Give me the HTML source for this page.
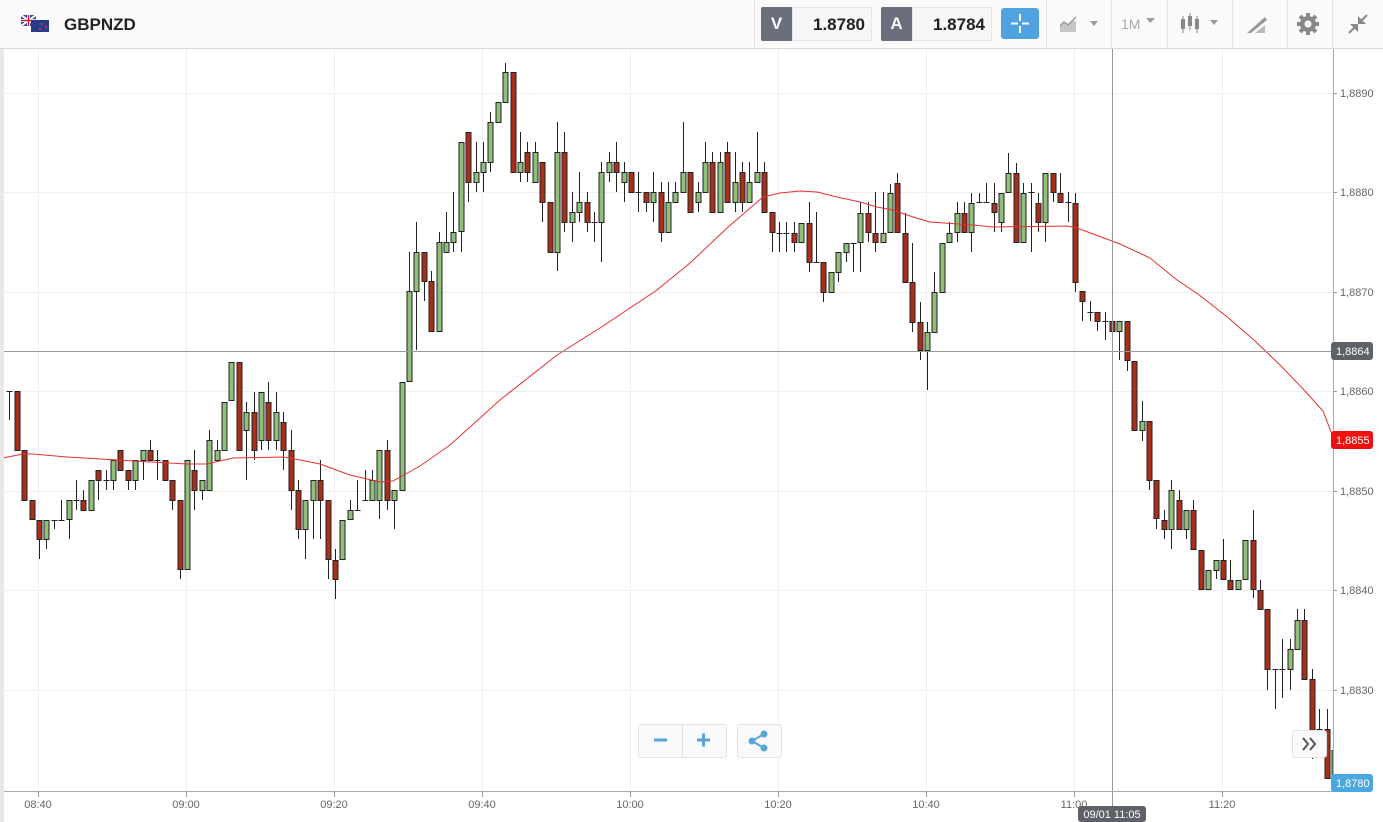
<!DOCTYPE html>
<html><head><meta charset="utf-8">
<style>
html,body{margin:0;padding:0;width:1383px;height:822px;overflow:hidden;background:#fff;font-family:"Liberation Sans",sans-serif;}
#hdr{position:absolute;left:0;top:0;width:1383px;height:48px;background:#fafafa;border-bottom:1px solid #d8d8d8;}
.sep{position:absolute;top:0;width:1px;height:48px;background:#e4e4e4;}
.bx{position:absolute;top:7px;height:34px;line-height:34px;font-size:17px;font-weight:bold;text-align:center;}
</style></head><body>
<div id="hdr">
  <svg style="position:absolute;left:21px;top:15px" width="30" height="18">
    <rect x="0" y="0" width="15" height="11" fill="#3a4a9a"/><path d="M0 0L15 11M15 0L0 11" stroke="#fff" stroke-width="2"/><path d="M7.5 0V11M0 5.5H15" stroke="#fff" stroke-width="3"/><path d="M7.5 0V11M0 5.5H15" stroke="#c8202a" stroke-width="1.5"/>
    <rect x="10" y="5" width="18" height="12" fill="#2a3a8a"/><circle cx="21" cy="9" r="1" fill="#e33"/><circle cx="25" cy="12" r="1" fill="#e33"/><circle cx="19" cy="14" r="1" fill="#e33"/>
  </svg>
  <div style="position:absolute;left:64px;top:15px;font-size:17px;font-weight:bold;color:#222">GBPNZD</div>
  <div class="sep" style="left:754px"></div>
  <div class="bx" style="left:761px;width:31px;background:#6b6e7c;color:#fff;border-radius:2px 0 0 2px">V</div>
  <div class="bx" style="left:792px;width:80px;background:#f7f7f7;border:1px solid #e6e6e6;box-sizing:border-box;color:#222;font-weight:600;text-align:right;padding-right:6px">1.8780</div>
  <div class="bx" style="left:881px;width:31px;background:#6b6e7c;color:#fff;border-radius:2px 0 0 2px">A</div>
  <div class="bx" style="left:912px;width:80px;background:#f7f7f7;border:1px solid #e6e6e6;box-sizing:border-box;color:#222;font-weight:600;text-align:right;padding-right:6px">1.8784</div>
  <div style="position:absolute;left:1001px;top:8px;width:38px;height:31px;background:#4ea3e0;border-radius:3px"></div>
  <svg style="position:absolute;left:1001px;top:8px" width="38" height="31"><path d="M19 6V13M19 18V25M10 15.5H17M21 15.5H28" stroke="#fff" stroke-width="2"/></svg>
  <div class="sep" style="left:1046px"></div>
  <svg style="position:absolute;left:1058px;top:14px" width="45" height="20"><path d="M2 18V12L6 9L9 12L14 6L18 8V18Z" fill="#c6c6c6"/><path d="M2 12L6 8L10 11L18 3" stroke="#999" fill="none" stroke-width="1.5"/><path d="M32 7L40 7L36 12Z" fill="#999"/></svg>
  <div class="sep" style="left:1111px"></div>
  <div style="position:absolute;left:1121px;top:16px;font-size:14px;color:#aaa">1M</div>
  <svg style="position:absolute;left:1146px;top:18px" width="10" height="6"><path d="M0 0H9L4.5 5Z" fill="#999"/></svg>
  <div class="sep" style="left:1167px"></div>
  <svg style="position:absolute;left:1180px;top:13px" width="45" height="22"><g fill="#888"><rect x="1" y="6" width="4" height="10"/><rect x="8" y="3" width="4" height="10"/><rect x="15" y="6" width="4" height="10"/></g><path d="M3 3V20M10 0V17M17 3V20" stroke="#888"/><path d="M30 7H38L34 12Z" fill="#999"/></svg>
  <div class="sep" style="left:1232px"></div>
  <svg style="position:absolute;left:1245px;top:13px" width="24" height="22"><path d="M2 20L20 4L22 7L6 20Z" fill="#999"/><path d="M10 20L20 12V20Z" fill="#bbb"/></svg>
  <div class="sep" style="left:1287px"></div>
  <svg style="position:absolute;left:1296px;top:12px" width="24" height="24"><circle cx="12" cy="12" r="8" fill="#888"/><g stroke="#888" stroke-width="4"><path d="M12 1V23M1 12H23M4 4L20 20M20 4L4 20"/></g><circle cx="12" cy="12" r="3.5" fill="#fafafa"/></svg>
  <div class="sep" style="left:1332px"></div>
  <svg style="position:absolute;left:1346px;top:12px" width="24" height="24"><path d="M3 21L10 14M21 3L14 10" stroke="#888" stroke-width="2"/><path d="M4 12H12V20Z M20 12H12V4Z" fill="#888"/></svg>
</div>
<div style="position:absolute;left:0;top:49px;width:4px;height:773px;background:#e8e8e8"></div>
<svg id="ch" style="position:absolute;left:0;top:0" width="1383" height="822"></svg>
<script>
var s='';
var gx=[38,186,334,482,630,778,926,1074,1222], gl=['08:40','09:00','09:20','09:40','10:00','10:20','10:40','11:00','11:20'];
var gy=[93,192,292,391,491,590,690], pl=['1,8890','1,8880','1,8870','1,8860','1,8850','1,8840','1,8830'];
for(var k=0;k<gx.length;k++){s+='<line x1="'+gx[k]+'.5" y1="49" x2="'+gx[k]+'.5" y2="792" stroke="#efefef"/>';}
for(var k=0;k<gy.length;k++){s+='<line x1="4" y1="'+gy[k]+'.5" x2="1333" y2="'+gy[k]+'.5" stroke="#efefef"/>';
 s+='<line x1="1333" y1="'+gy[k]+'.5" x2="1337" y2="'+gy[k]+'.5" stroke="#999"/><text x="1340" y="'+(gy[k]+4)+'" font-size="11" fill="#666">'+pl[k]+'</text>';}
var D=[[391,391,420,0],[391,450,0,0],[450,500,0,0],[500,519,0,0],[520,539,559,0],[539,520,549,0],[520,520,529,0],[520,520,500,0],[519,500,539,0],[500,500,480,510],
[500,510,490,0],[510,480,0,0],[470,480,500,0],[480,480,470,490],[480,460,490,0],[450,470,0,0],[470,480,490,0],[480,460,490,0],[460,450,480,0],[450,460,440,0],
[460,460,450,480],[460,480,0,0],[480,500,510,0],[500,569,579,0],[569,460,0,0],[470,490,450,510],[490,480,500,0],[490,440,430,0],[460,450,440,0],[450,402,0,0],
[400,362,0,0],[362,450,0,0],[430,412,402,480],[412,450,392,460],[440,392,450,0],[402,440,382,450],[440,412,392,450],[422,450,412,470],[450,490,430,510],[490,529,480,539],
[529,500,559,0],[500,480,539,0],[480,500,460,539],[500,559,579,0],[560,579,549,599],[559,520,0,0],[519,510,500,0],[510,510,480,0],[500,500,470,0],[500,480,470,0],
[500,450,519,0],[450,500,440,510],[500,490,529,0],[490,382,0,0],[381,291,252,0],[291,252,222,350],[252,281,301,0],[281,331,271,0],[331,242,232,0],[252,242,212,0],
[242,232,192,252],[231,142,252,0],[132,182,202,0],[182,172,142,192],[172,162,142,192],[162,122,112,172],[122,102,0,0],[102,72,63,0],[72,172,0,0],[172,162,132,182],
[152,172,142,182],[182,152,142,0],[162,202,222,0],[202,252,0,0],[252,152,122,271],[152,222,132,232],[222,212,192,242],[212,202,172,222],[202,222,192,232],[222,222,212,242],
[222,172,162,262],[172,162,152,182],[162,172,142,192],[182,172,162,202],[172,192,0,0],[192,192,172,212],[192,202,212,0],[202,192,172,222],[192,232,182,242],[232,202,182,0],
[202,192,182,0],[192,172,122,0],[172,212,0,0],[202,192,182,212],[192,162,142,0],[162,212,152,0],[212,162,152,0],[152,202,142,0],[202,182,152,212],[172,202,162,212],
[202,182,162,0],[182,172,132,0],[172,212,162,0],[212,232,252,0],[233,233,222,252],[233,233,222,252],[233,242,222,252],[242,223,0,0],[223,262,202,272],[262,262,212,0],
[262,292,302,0],[292,272,0,0],[272,252,282,0],[252,243,262,0],[243,243,272,0],[242,213,202,272],[213,232,202,242],[233,242,192,252],[242,233,192,0],[232,193,184,0],
[183,232,173,0],[233,282,213,0],[282,322,243,332],[322,350,302,360],[350,332,322,390],[332,292,272,0],[292,243,0,0],[242,233,222,0],[232,213,202,242],[213,232,202,0],
[232,203,193,252],[202,202,193,0],[202,202,183,0],[203,212,183,232],[222,193,232,0],[192,173,153,0],[173,242,163,0],[242,193,183,0],[192,192,183,252],[203,222,193,232],
[222,173,242,0],[173,192,202,0],[193,202,173,0],[202,202,192,222],[203,282,193,292],[291,301,321,0],[312,312,301,321],[312,321,331,0],[321,321,312,340],[321,331,351,0],
[331,321,360,0],[321,360,371,0],[361,430,0,0],[430,421,401,441],[421,480,490,0],[480,518,529,0],[520,529,510,539],[529,490,480,549],[500,529,490,0],[529,510,539,0],
[510,549,500,0],[550,589,0,0],[589,570,0,0],[570,560,579,0],[560,579,539,0],[580,589,560,0],[589,580,0,0],[579,540,0,0],[540,589,510,598],[590,609,580,0],
[609,669,690,0],[669,669,709,0],[669,669,639,698],[669,649,639,690],[649,620,609,0],[620,679,609,0],[679,733,669,759],[729,729,709,0],[729,778,709,0],[778,750,729,0]];
var c='';
for(var j=0;j<D.length;j++){var d=D[j],i=j-4,x=39+7.4*i,o=d[0],cl=d[1];
 var arr=[o,cl];if(d[2])arr.push(d[2]);if(d[3])arr.push(d[3]);
 var hi=Math.min.apply(null,arr),lo=Math.max.apply(null,arr);
 var xc=Math.round(x)+0.5;
 c+='<line x1="'+xc+'" y1="'+hi+'" x2="'+xc+'" y2="'+lo+'" stroke="#222"/>';
 if(o==cl){c+='<line x1="'+(xc-3)+'" y1="'+o+'.5" x2="'+(xc+3)+'" y2="'+o+'.5" stroke="#222"/>';}
 else{var t=Math.min(o,cl),b=Math.max(o,cl),col=cl<o?'#8fbf78':'#a8301a';
  c+='<rect x="'+(xc-2.5)+'" y="'+(t+0.5)+'" width="5" height="'+(b-t)+'" fill="'+col+'" stroke="#222" stroke-width="1"/>';}
}
s+='<g clip-path="url(#cp)">'+c;
s+='<polyline fill="none" stroke="#e53030" stroke-width="1" points="3,458 23,454 33,454 67,457 117,460 187,464 207,464 233,458 283,457 300,460 320,464 350,475 380,482 393,481 420,466 450,445 500,400 557,355 600,328 627,310 657,290 690,263 727,228 763,197 780,193 800,191 817,192 837,197 860,202 877,207 893,210 913,217 930,222 973,225 993,227 1067,226 1077,228 1120,244 1150,258 1177,280 1198,294 1226,316 1254,340 1281,366 1305,391 1323,411 1333,437"/></g>';
s='<defs><clipPath id="cp"><rect x="4" y="49" width="1329" height="743"/></clipPath></defs>'+s;
s+='<line x1="4" y1="351.5" x2="1333" y2="351.5" stroke="#999"/><line x1="1112.5" y1="49" x2="1112.5" y2="806" stroke="#999"/>';
s+='<line x1="1333.5" y1="49" x2="1333.5" y2="792" stroke="#aaa"/><line x1="4" y1="791.5" x2="1333" y2="791.5" stroke="#aaa"/>';
for(var k=0;k<gx.length;k++){s+='<line x1="'+gx[k]+'.5" y1="792" x2="'+gx[k]+'.5" y2="797" stroke="#999"/><text x="'+gx[k]+'" y="808" font-size="11" fill="#666" text-anchor="middle">'+gl[k]+'</text>';}
function tag(y,bg,t){return '<rect x="1331" y="'+(y-9)+'" width="42" height="18" rx="3" fill="'+bg+'"/><text x="1336" y="'+(y+4)+'" font-size="11" fill="#fff">'+t+'</text>';}
s+=tag(351,'#5f6168','1,8864')+tag(440,'#f01010','1,8855')+tag(783,'#4aa8e0','1,8780');
s+='<rect x="1078" y="806" width="68" height="16" rx="3" fill="#5f6168"/><text x="1112" y="818" font-size="11" fill="#fff" text-anchor="middle">09/01 11:05</text>';
s+='<rect x="638.5" y="724.5" width="88" height="33" rx="3" fill="#fafafa" stroke="#e2e2e2"/><line x1="682.5" y1="725" x2="682.5" y2="757" stroke="#e2e2e2"/>';
s+='<path d="M654 740H667" stroke="#5aa5d8" stroke-width="3"/><path d="M697 740H710M703.5 733.5V746.5" stroke="#5aa5d8" stroke-width="3"/>';
s+='<rect x="737.5" y="724.5" width="44" height="33" rx="3" fill="#fafafa" stroke="#e2e2e2"/>';
s+='<path d="M752 741L764 734M752 741L764 748" stroke="#5aa5d8" stroke-width="2"/><circle cx="752" cy="741" r="3.5" fill="#5aa5d8"/><circle cx="764" cy="734" r="3.5" fill="#5aa5d8"/><circle cx="764" cy="748" r="3.5" fill="#5aa5d8"/>';
s+='<rect x="1292.5" y="730.5" width="34" height="27" rx="3" fill="#fafafa" stroke="#e2e2e2"/><path d="M1303 738L1308 744L1303 750M1310 738L1315 744L1310 750" stroke="#555" stroke-width="2" fill="none"/>';
document.getElementById('ch').innerHTML=s;
</script>
</body></html>
